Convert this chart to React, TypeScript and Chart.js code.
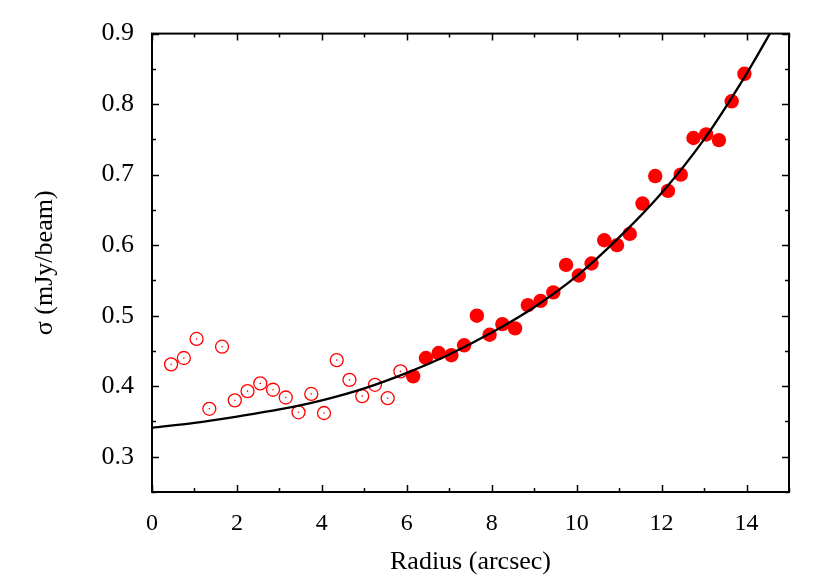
import React, { useEffect, useRef } from "react";
import { Chart, registerables } from "chart.js";

Chart.register(...registerables);

// Open circles (inner region)
const openX = [0.45, 0.75, 1.05, 1.35, 1.65, 1.95, 2.25, 2.55, 2.85, 3.15, 3.45, 3.75, 4.05, 4.35, 4.65, 4.95, 5.25, 5.55, 5.85];
const openY = [0.431, 0.440, 0.467, 0.368, 0.456, 0.380, 0.393, 0.404, 0.395, 0.384, 0.363, 0.389, 0.362, 0.437, 0.409, 0.386, 0.402, 0.383, 0.421];

// Filled circles (fitted region)
const fillX = [6.15, 6.45, 6.75, 7.05, 7.35, 7.65, 7.95, 8.25, 8.55, 8.85, 9.15, 9.45, 9.75, 10.05, 10.35, 10.65, 10.95, 11.25, 11.55, 11.85, 12.15, 12.45, 12.75, 13.05, 13.35, 13.65, 13.95];
const fillY = [0.414, 0.440, 0.447, 0.444, 0.458, 0.500, 0.473, 0.488, 0.482, 0.515, 0.521, 0.533, 0.572, 0.557, 0.574, 0.607, 0.600, 0.616, 0.659, 0.698, 0.677, 0.700, 0.752, 0.757, 0.749, 0.804, 0.843];

// Fitted curve
const fitX = [0, 1, 2, 3, 4, 5, 6, 7, 8, 9, 10, 11, 12, 13, 14, 14.55];
const fitY = [0.341, 0.348, 0.357, 0.367, 0.380, 0.397, 0.419, 0.445, 0.476, 0.512, 0.556, 0.611, 0.674, 0.750, 0.843, 0.900];

const xTicks = [0, 2, 4, 6, 8, 10, 12, 14];
const yTicks = [0.3, 0.4, 0.5, 0.6, 0.7, 0.8, 0.9];

const X_MIN = 0, X_MAX = 15, Y_MIN = 0.25, Y_MAX = 0.9;
const FONT = "'Liberation Serif', 'Times New Roman', serif";

const framePlugin = {
  id: "frameTicks",
  afterDraw(chart: any) {
    const { ctx, chartArea, scales } = chart;
    const { left, right, top, bottom } = chartArea;
    const xs = scales.x, ys = scales.y;
    ctx.save();
    ctx.strokeStyle = "#000";
    ctx.lineWidth = 1.5;
    ctx.lineCap = "butt";
    ctx.beginPath();
    for (let i = 0; i <= 15; i++) {
      const v = X_MIN + i;
      const px = Math.round(xs.getPixelForValue(v)) + 0.5;
      const len = i % 2 === 0 ? 7 : 4;
      ctx.moveTo(px, bottom);
      ctx.lineTo(px, bottom - len);
      ctx.moveTo(px, top);
      ctx.lineTo(px, top + len);
    }
    for (let i = 0; i <= 13; i++) {
      const v = Y_MIN + i * 0.05;
      const py = Math.round(ys.getPixelForValue(v)) + 0.5;
      const len = i % 2 === 1 ? 7 : 4;
      ctx.moveTo(left, py);
      ctx.lineTo(left + len, py);
      ctx.moveTo(right, py);
      ctx.lineTo(right - len, py);
    }
    ctx.stroke();
    ctx.lineWidth = 2;
    ctx.strokeRect(left, top, right - left, bottom - top);
    ctx.restore();
  },
};

export default function App() {
  const ref = useRef<HTMLCanvasElement | null>(null);
  useEffect(() => {
    if (!ref.current) return;
    const pts = (xs: number[], ys: number[]) => xs.map((x, i) => ({ x, y: ys[i] }));
    const chart = new Chart(ref.current, {
      type: "scatter",
      data: {
        datasets: [
          {
            label: "fit",
            data: pts(fitX, fitY),
            showLine: true,
            borderColor: "#000",
            borderWidth: 2.3,
            pointRadius: 0,
            cubicInterpolationMode: "monotone",
            fill: false,
          } as any,
          {
            label: "open centers",
            data: pts(openX, openY),
            pointRadius: 0.8,
            pointBackgroundColor: "#ff0000",
            pointBorderWidth: 0,
            showLine: false,
          },
          {
            label: "open",
            data: pts(openX, openY),
            pointRadius: 6.5,
            pointBorderColor: "#ff0000",
            pointBorderWidth: 1.3,
            pointBackgroundColor: "rgba(0,0,0,0)",
            showLine: false,
          },
          {
            label: "filled",
            data: pts(fillX, fillY),
            pointRadius: 7.2,
            pointBackgroundColor: "#ff0000",
            pointBorderWidth: 0,
            showLine: false,
          },
        ],
      },
      options: {
        animation: false,
        responsive: false,
        devicePixelRatio: 1,
        layout: { padding: { left: 0, top: 33, right: 41, bottom: 0 } },
        plugins: { legend: { display: false }, tooltip: { enabled: false } },
        scales: {
          x: {
            type: "linear",
            min: X_MIN,
            max: X_MAX,
            grid: { display: false, drawTicks: false },
            border: { display: false },
            afterBuildTicks: (s: any) => {
              s.ticks = xTicks.map((v) => ({ value: v }));
            },
            afterFit: (s: any) => {
              s.height = 89;
            },
            ticks: {
              color: "#000",
              padding: 17,
              maxRotation: 0,
              font: { family: FONT, size: 24 },
              callback: (v: any) => String(v),
            },
            title: {
              display: true,
              text: "Radius (arcsec)",
              color: "#000",
              font: { family: FONT, size: 26 },
              padding: { top: 0, bottom: 3 },
            },
          },
          y: {
            type: "linear",
            min: Y_MIN,
            max: Y_MAX,
            grid: { display: false, drawTicks: false },
            border: { display: false },
            afterBuildTicks: (s: any) => {
              s.ticks = yTicks.map((v) => ({ value: v }));
            },
            afterFit: (s: any) => {
              s.width = 152;
            },
            ticks: {
              color: "#000",
              padding: 18,
              font: { family: FONT, size: 26 },
              callback: (v: any) => Number(v).toFixed(1),
            },
            title: {
              display: true,
              text: "σ (mJy/beam)",
              color: "#000",
              font: { family: FONT, size: 26 },
              padding: { top: 30, bottom: 0 },
            },
          },
        },
      },
      plugins: [framePlugin],
    });
    return () => chart.destroy();
  }, []);
  return (
    <div style={{ position: "absolute", left: 0, top: 0, width: 830, height: 581, background: "#fff" }}>
      <canvas ref={ref} width={830} height={581} style={{ display: "block", width: 830, height: 581 }} />
    </div>
  );
}
